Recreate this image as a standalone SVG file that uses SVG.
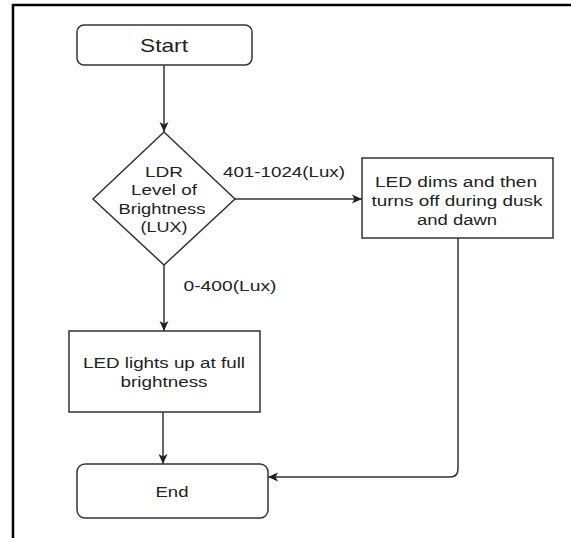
<svg xmlns="http://www.w3.org/2000/svg" width="571" height="538" viewBox="0 0 571 538">
<style>
.shape{fill:#fff;stroke:#333;stroke-width:1.5}
.edge{fill:none;stroke:#333;stroke-width:1.5}
text{font-family:"Liberation Sans",Arial,sans-serif;fill:#222;text-anchor:middle}
.t{font-size:15.5px}
.big{font-size:19px}
</style>
<defs>
<marker id="arr" markerUnits="userSpaceOnUse" markerWidth="12" markerHeight="10" refX="10" refY="5" orient="auto">
<path d="M0,0.5 L10,5 L0,9.5 L2.5,5 z" fill="#222"/>
</marker>
</defs>
<rect x="0" y="0" width="571" height="538" fill="#fff"/>
<path d="M13,538 V5 H571" fill="none" stroke="#000" stroke-width="2.5"/>
<g id="connectors">
<path class="edge" d="M164,65 V132" marker-end="url(#arr)"/>
<path class="edge" d="M235,199 H362" marker-end="url(#arr)"/>
<path class="edge" d="M164,265 V331" marker-end="url(#arr)"/>
<path class="edge" d="M163,412 V464" marker-end="url(#arr)"/>
<path class="edge" d="M458,238 V469 Q458,477 450,477 H268" marker-end="url(#arr)"/>
<text class="t" x="284" y="177" textLength="122" lengthAdjust="spacingAndGlyphs">401-1024(Lux)</text>
<text class="t" x="230" y="291" textLength="93" lengthAdjust="spacingAndGlyphs">0-400(Lux)</text>
</g>
<g id="start">
<rect class="shape" x="77" y="25" width="175" height="40" rx="7"/>
<text class="big" x="164" y="52" textLength="48" lengthAdjust="spacingAndGlyphs">Start</text>
</g>
<g id="decision">
<polygon class="shape" points="164,132 235,199 164,265 93,199"/>
<text class="t" x="164" y="177" textLength="38" lengthAdjust="spacingAndGlyphs">LDR</text>
<text class="t" x="164" y="195" textLength="66" lengthAdjust="spacingAndGlyphs">Level of</text>
<text class="t" x="162" y="214" textLength="87" lengthAdjust="spacingAndGlyphs">Brightness</text>
<text class="t" x="164" y="232" textLength="47" lengthAdjust="spacingAndGlyphs">(LUX)</text>
</g>
<g id="dim">
<rect class="shape" x="362" y="158" width="191" height="80"/>
<text class="t" x="456" y="187" textLength="162" lengthAdjust="spacingAndGlyphs">LED dims and then</text>
<text class="t" x="457" y="206" textLength="171" lengthAdjust="spacingAndGlyphs">turns off during dusk</text>
<text class="t" x="457" y="225" textLength="80" lengthAdjust="spacingAndGlyphs">and dawn</text>
</g>
<g id="full">
<rect class="shape" x="69" y="331" width="191" height="81"/>
<text class="t" x="164" y="368" textLength="162" lengthAdjust="spacingAndGlyphs">LED lights up at full</text>
<text class="t" x="164" y="387" textLength="87" lengthAdjust="spacingAndGlyphs">brightness</text>
</g>
<g id="end">
<rect class="shape" x="77" y="464" width="191" height="54" rx="8"/>
<text class="t" x="172" y="497" textLength="33" lengthAdjust="spacingAndGlyphs">End</text>
</g>
</svg>
